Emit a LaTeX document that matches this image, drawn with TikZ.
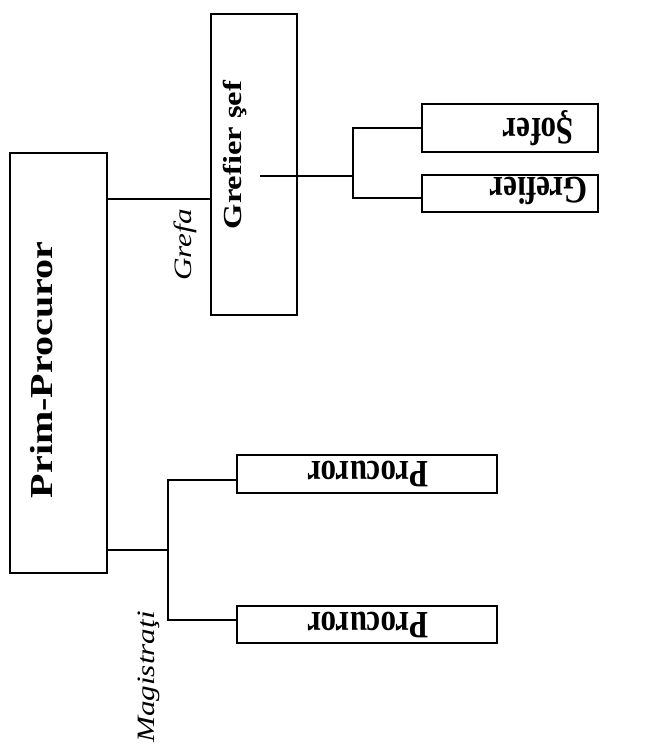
\documentclass[tikz,border=0pt]{standalone}
\usepackage{fontspec}
\setmainfont{Liberation Serif}
\usepackage{graphicx}
\newcommand\bsz[1]{\fontsize{#1}{#1}\selectfont\bfseries}
\newcommand\isz[1]{\fontsize{#1}{#1}\selectfont\itshape}
\begin{document}
\begin{tikzpicture}[x=1pt,y=-1pt,
  box/.style={draw, line width=2.8pt, inner sep=0pt, outer sep=0pt},
  conn/.style={line width=2.2pt},
  lbl/.style={inner sep=0pt, outer sep=0pt}]
\useasboundingbox (0,0) rectangle (656,746);
% boxes
\node[box, minimum width=97pt, minimum height=420pt] (pp) at (58.5,363) {};
\node[box, minimum width=86pt, minimum height=301pt] (gs) at (254,164.5) {};
\node[box, minimum width=176pt, minimum height=48pt] (sof) at (510,128) {};
\node[box, minimum width=176pt, minimum height=37pt] (gref) at (510,193.5) {};
\node[box, minimum width=260pt, minimum height=38pt] (pr1) at (367,474) {};
\node[box, minimum width=260pt, minimum height=37pt] (pr2) at (367,624.5) {};
% texts
\node[lbl] (ppt) at (42,370) {\scalebox{1}[1.25]{\rotatebox{90}{\bsz{32}Prim-Procuror}}};
\node[lbl] (gst) at (235.5,155) {\scalebox{1}[1.25]{\rotatebox{90}{\bsz{26}Grefier şef}}};
\node[lbl] (gft) at (185,245) {\scalebox{1}[1.25]{\rotatebox{90}{\isz{25}Grefa}}};
\node[lbl] (soft) at (538.5,128) {\scalebox{1}[1.25]{\rotatebox{180}{\bsz{31}Şofer}}};
\node[lbl] (greft) at (539,191) {\scalebox{1}[1.25]{\rotatebox{180}{\bsz{31}Grefier}}};
\node[lbl] (pr1t) at (368,474) {\scalebox{1}[1.25]{\rotatebox{180}{\bsz{31}Procuror}}};
\node[lbl] (pr2t) at (368,624.5) {\scalebox{1}[1.25]{\rotatebox{180}{\bsz{31}Procuror}}};
\node[lbl] (magt) at (149,677) {\scalebox{1}[1.25]{\rotatebox{90}{\isz{25}Magistraţi}}};
% connectors
\coordinate (gy) at (0,199);
\draw[conn] (pp.east |- gy) -- (gs.west |- gy);
\coordinate (gsin) at (260,176);
\coordinate (b0) at (353,176);
\coordinate (b1) at (353,128);
\coordinate (b2) at (353,198);
\draw[conn] (gsin) -- (b0);
\draw[conn] (sof.west |- b1) -- (b1) -- (b2) -- (gref.west |- b2);
\coordinate (m0) at (0,550);
\coordinate (m1) at (168,480);
\coordinate (m2) at (168,620);
\draw[conn] (pp.east |- m0) -- (m1 |- m0);
\draw[conn] (pr1.west |- m1) -- (m1) -- (m2) -- (pr2.west |- m2);
\end{tikzpicture}
\end{document}
